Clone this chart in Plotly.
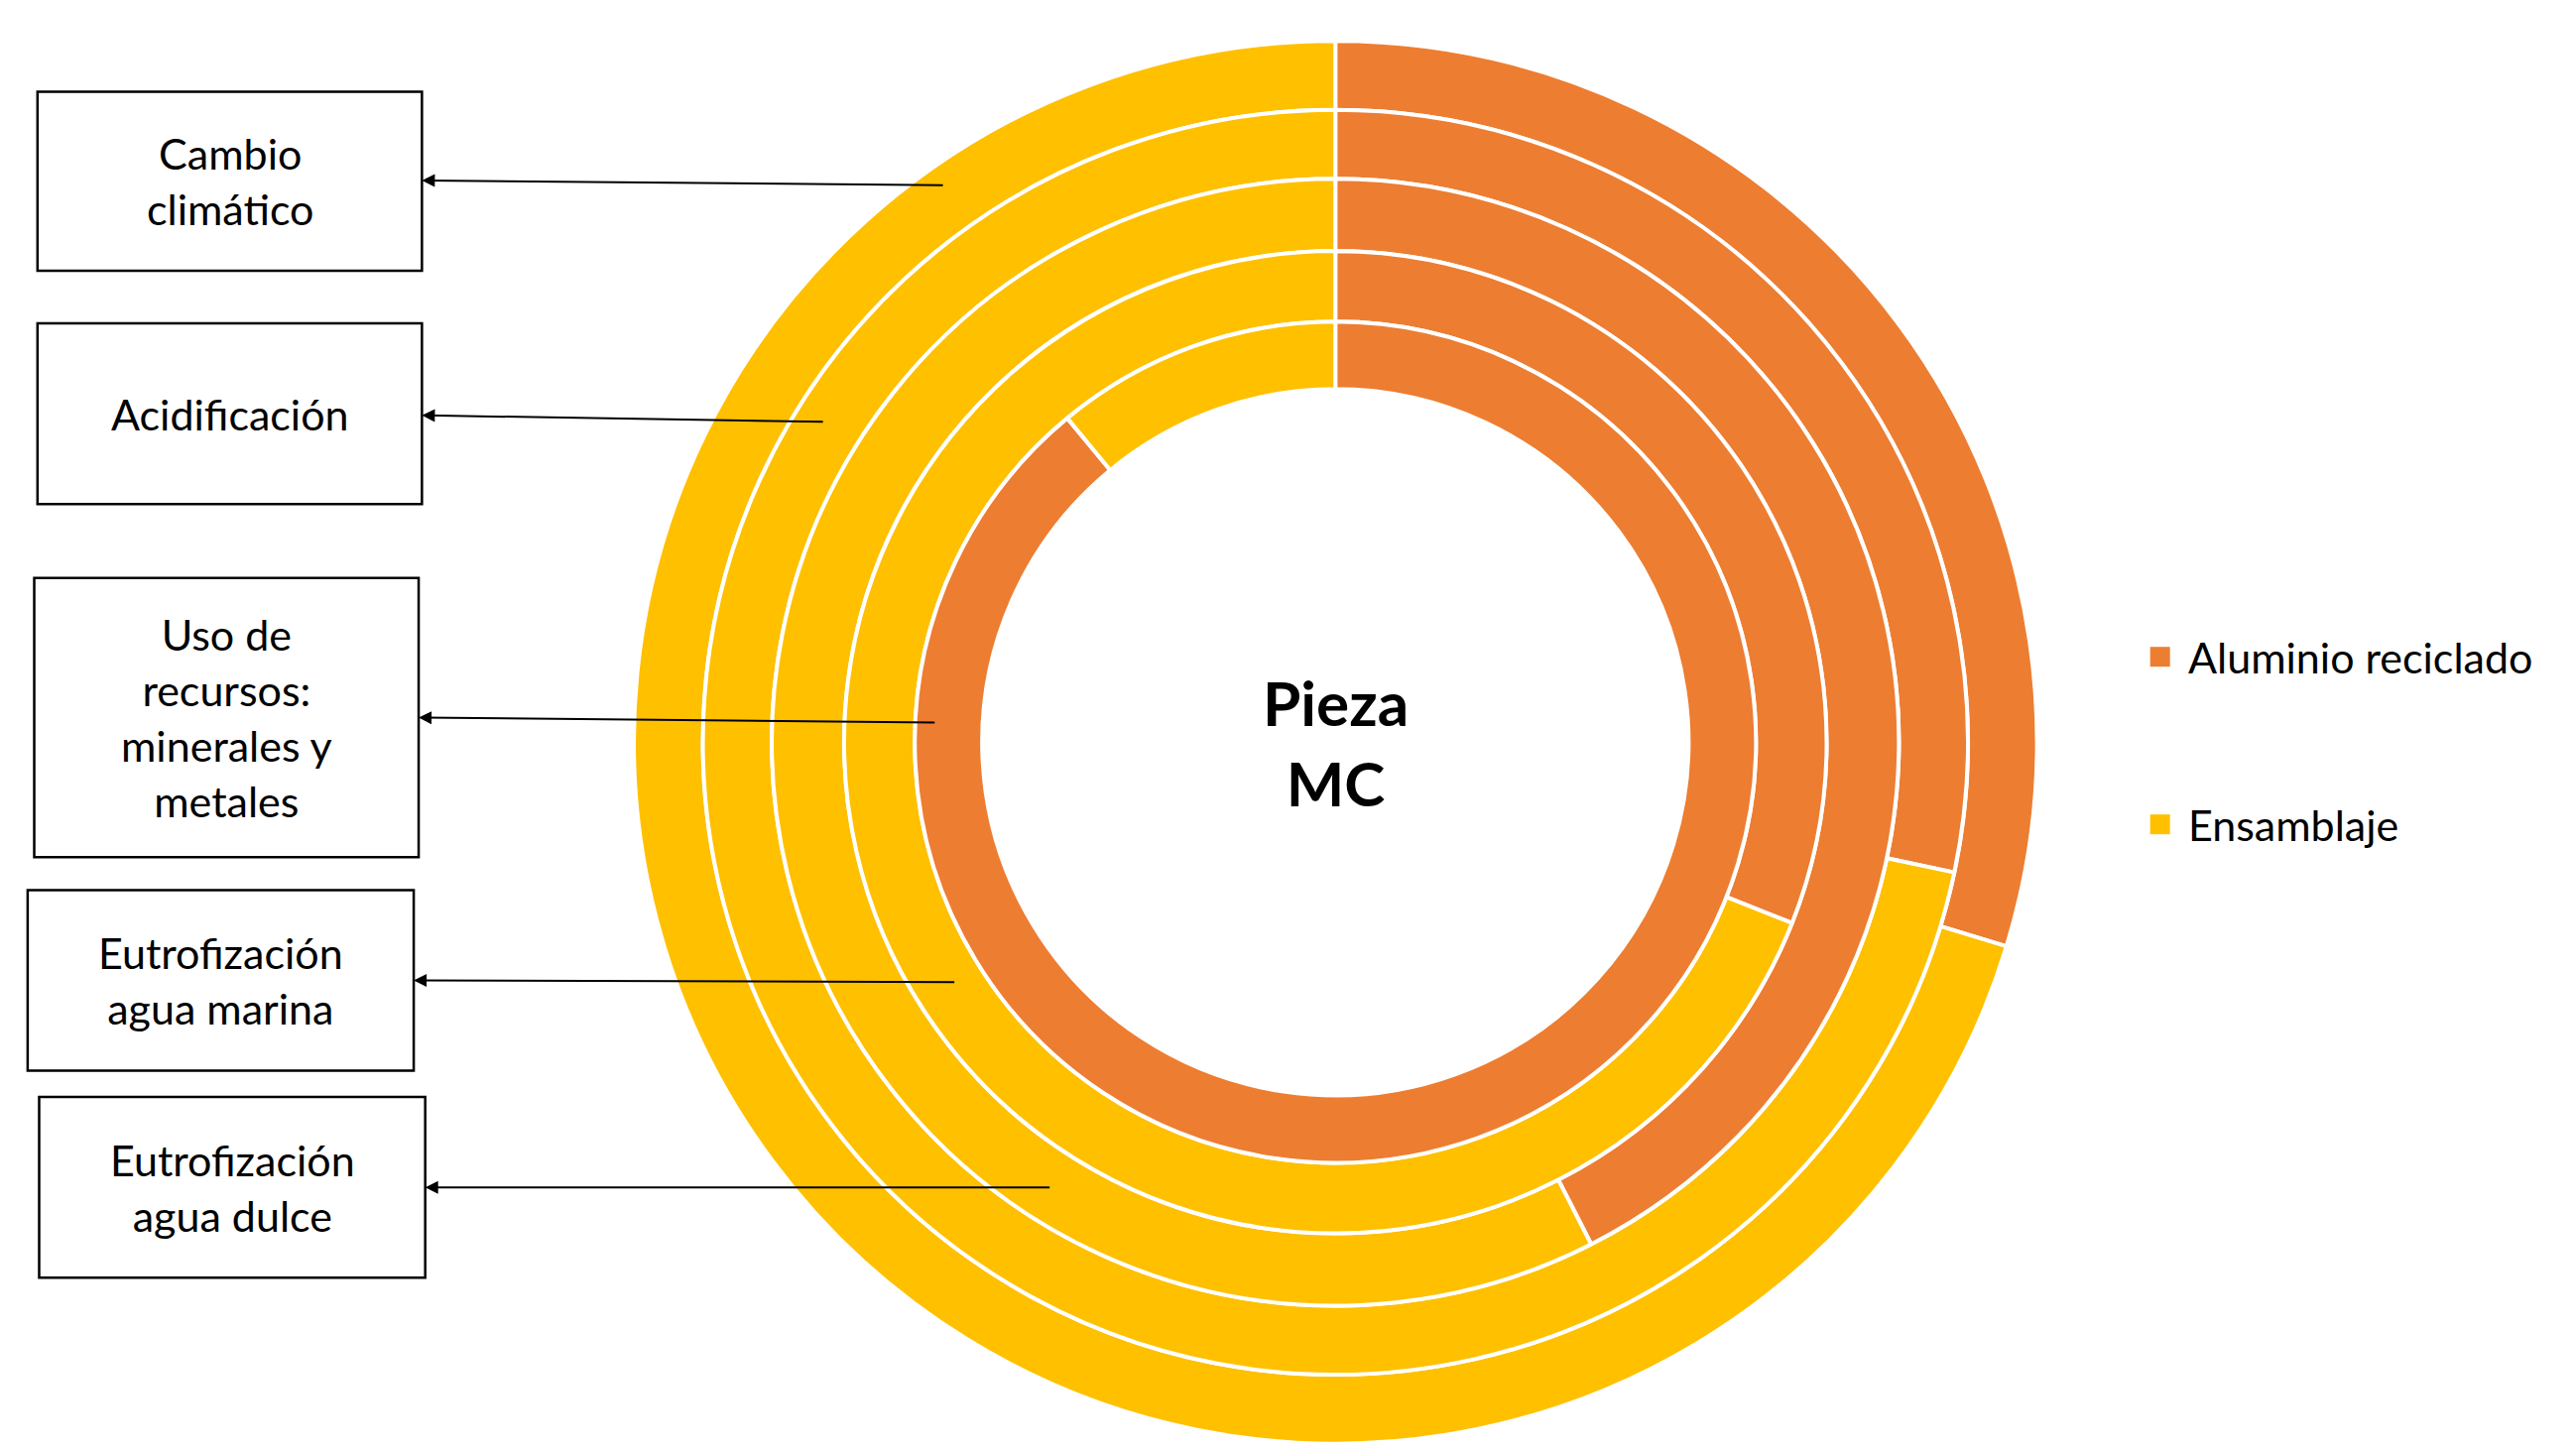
import plotly.graph_objects as go

W, H = 2597, 1464
S = W / 1568.0

categories = ["Cambio climático", "Acidificación", "Eutrofización agua dulce",
              "Eutrofización agua marina", "Uso de recursos: minerales y metales"]
box_labels = ["Cambio<br>climático", "Acidificación", "Eutrofización<br>agua dulce",
              "Eutrofización<br>agua marina", "Uso de<br>recursos:<br>minerales y<br>metales"]
series = ["Aluminio reciclado", "Ensamblaje"]
aluminio = [29.7, 28.3, 42.5, 31.0, 89.0]
ensamblaje = [100 - v for v in aluminio]
colors = ["#ED7D31", "#FFC000"]

cx, cy = 808 * S, 447 * S
radii = [427, 385, 343, 299, 256, 215]

fig = go.Figure()
for i, cat in enumerate(categories):
    ro, ri = radii[i] * S, radii[i + 1] * S
    fig.add_trace(go.Pie(
        labels=series, values=[aluminio[i], ensamblaje[i]], name=cat,
        sort=False, direction="clockwise", rotation=0, hole=ri / ro,
        marker=dict(colors=colors, line=dict(color="white", width=4)),
        textinfo="none", hoverinfo="label+value", showlegend=False,
        domain=dict(x=[(cx - ro) / W, (cx + ro) / W], y=[1 - (cy + ro) / H, 1 - (cy - ro) / H]),
    ))

# label boxes (shown-image coords), arrow targets, dots
boxes = [(18, 51, 252, 160), (18, 192, 252, 302), (19, 663, 254, 773), (12, 537, 247, 647), (16, 347, 250, 517)]
dots = [(570, 108), (497, 252), (635, 718), (577, 593), (565, 435)]
heads = [(252, 105), (252, 248), (254, 718), (247, 592), (250, 432)]

for (x0, y0, x1, y1), lab, d, h in zip(boxes, box_labels, dots, heads):
    fig.add_shape(type="rect", xref="x", yref="y", x0=x0 * S, x1=x1 * S, y0=y0 * S, y1=y1 * S,
                  line=dict(color="black", width=2.5), fillcolor="white")
    fig.add_annotation(x=(x0 + x1) / 2 * S, y=(y0 + y1) / 2 * S, xref="x", yref="y", text=lab,
                       showarrow=False, font=dict(size=43, color="black"), align="center")
    fig.add_annotation(x=h[0] * S, y=h[1] * S, ax=d[0] * S, ay=d[1] * S, xref="x", yref="y",
                       axref="x", ayref="y", text="", showarrow=True, arrowhead=2, arrowsize=1.3,
                       arrowwidth=2, arrowcolor="black")

fig.add_trace(go.Scatter(x=[d[0] * S for d in dots], y=[d[1] * S for d in dots], mode="markers",
                         marker=dict(size=28, color="black"), showlegend=False, hoverinfo="skip"))

# custom legend
leg_y = [395, 497]
fig.add_trace(go.Scatter(x=[1310 * S] * 2, y=[v * S for v in leg_y], mode="markers",
                         marker=dict(size=20, color=colors, symbol="square"), showlegend=False, hoverinfo="skip"))
for s, yv in zip(series, leg_y):
    fig.add_annotation(x=1326 * S, y=yv * S, xref="x", yref="y", text=s, showarrow=False,
                       xanchor="left", font=dict(size=43, color="black"))

fig.add_annotation(x=cx, y=cy, xref="x", yref="y", text="<b>Pieza<br>MC</b>", showarrow=False,
                   font=dict(size=62, color="black"), align="center")

fig.update_layout(
    width=W, height=H, margin=dict(l=0, r=0, t=0, b=0),
    paper_bgcolor="white", plot_bgcolor="rgba(0,0,0,0)",
    font=dict(family="Lato, Open Sans, sans-serif"),
    xaxis=dict(range=[0, W], visible=False, fixedrange=True),
    yaxis=dict(range=[H, 0], visible=False, fixedrange=True),
)
fig.write_html("out.html")
